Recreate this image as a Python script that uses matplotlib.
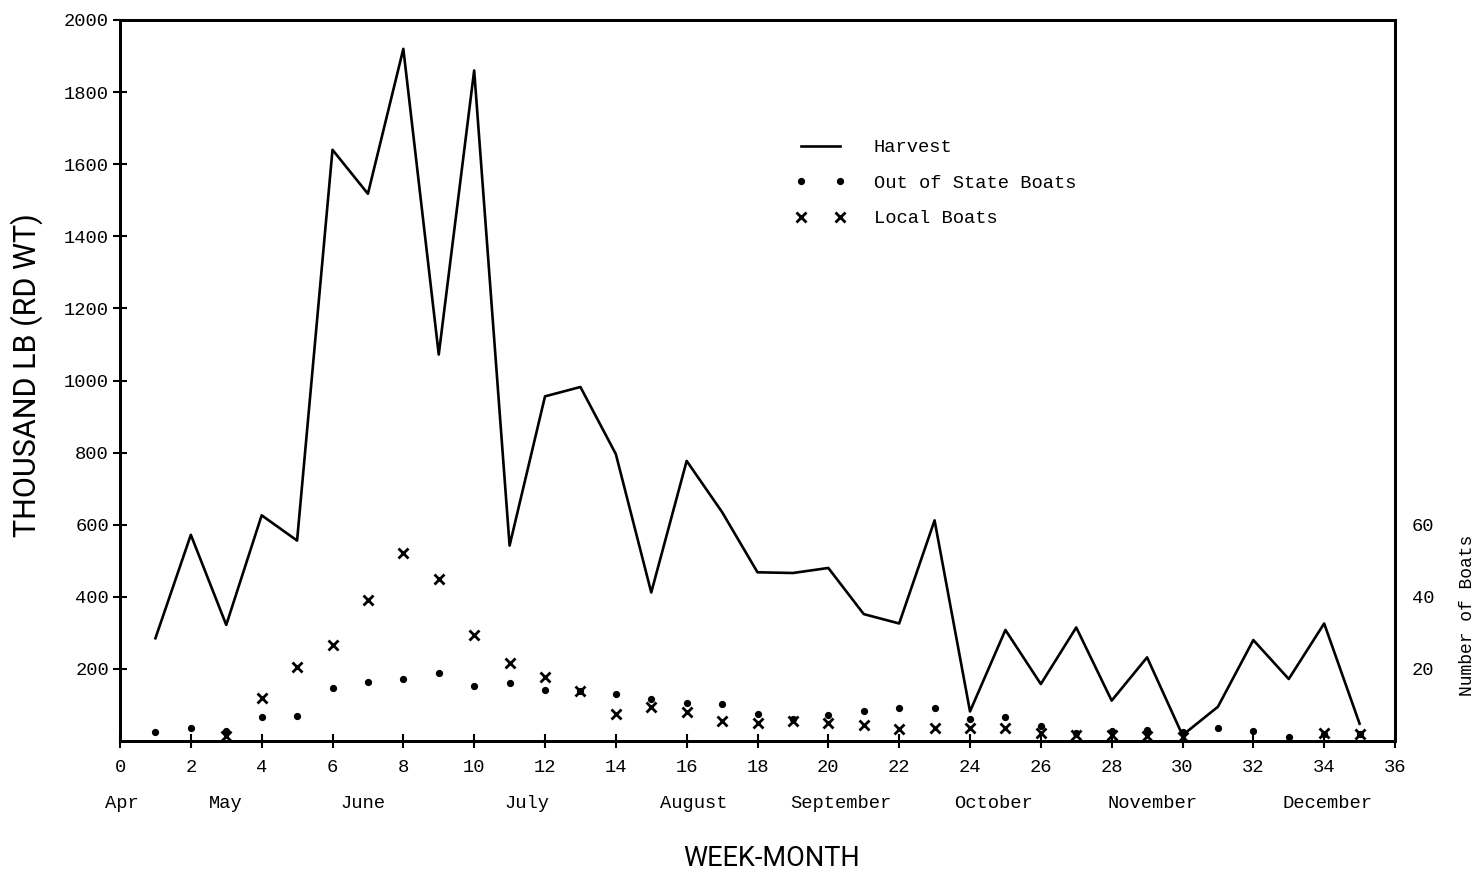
import numpy as np
import matplotlib
matplotlib.use("Agg")
import matplotlib.pyplot as plt
import matplotlib.transforms as mtransforms

# ---- data ----
weeks = list(range(1, 36))
harvest = [285, 572, 322, 626, 556, 1640, 1518, 1920, 1072, 1860,
           542, 956, 982, 796, 412, 777, 635, 468, 466, 480,
           352, 326, 612, 82, 308, 158, 315, 112, 232, 16,
           95, 280, 172, 326, 48]
out_of_state = [2.5, 3.6, 2.8, 6.7, 6.9, 14.7, 16.4, 17.2, 18.9, 15.3,
                16.1, 14.1, 14.0, 13.0, 11.7, 10.5, 10.3, 7.5, 6.2, 7.2,
                8.3, 9.2, 9.2, 6.1, 6.7, 4.2, 2.2, 2.8, 3.0, 2.5,
                3.6, 2.8, 1.1, 2.0, 2.0]
local = [np.nan, np.nan, 1.5, 11.9, 20.5, 26.5, 39.0, 52.2, 45.0, 29.4,
         21.6, 17.8, 13.9, 7.5, 9.5, 8.0, 5.6, 4.9, 5.6, 5.0,
         4.4, 3.3, 3.5, 3.7, 3.6, 2.3, 1.7, 1.7, 1.4, 1.0,
         np.nan, np.nan, np.nan, 2.2, 2.0]
x_ticks = list(range(0, 37, 2))
y_ticks = list(range(200, 2001, 200))
boat_ticks = [20, 40, 60]
months = ["Apr", "May", "June", "July", "August", "September",
          "October", "November", "December"]
month_weeks = [0.05, 3.0, 6.85, 11.5, 16.2, 20.35, 24.65, 29.15, 34.1]

mono = "Liberation Mono"
cond = ["Roboto", "DejaVu Sans"]

fig = plt.figure(figsize=(14.8, 8.74), dpi=100)
ax = fig.add_axes([120/1480, 1-741/874, (1395-120)/1480, (741-20)/874])
ax2 = ax.twinx()

ax.plot(weeks, harvest, color="black", lw=1.9, label="Harvest", zorder=3)
ax2.plot(weeks, out_of_state, ls="none", marker="o", ms=4.2, color="black",
         label="Out of State Boats")
ax2.plot(weeks, local, ls="none", marker="x", ms=6.5, mew=2.0, color="black",
         label="Local Boats")

ax.set_xlim(0, 36)
ax.set_ylim(0, 2000)
ax2.set_ylim(0, 200)

ax.set_xticks(x_ticks)
ax.set_xticklabels([str(t) for t in x_ticks], fontfamily=mono, fontsize=13.5)
ax.set_yticks(y_ticks)
ax.set_yticklabels([str(t) for t in y_ticks], fontfamily=mono, fontsize=13.5)
ax.tick_params(axis="x", direction="inout", length=10, width=1.5, pad=8)
ax.tick_params(axis="y", direction="inout", length=10, width=1.5, pad=3)

ax2.set_yticks(boat_ticks)
ax2.set_yticklabels([str(t) for t in boat_ticks], fontfamily=mono, fontsize=13.5)
ax2.tick_params(axis="y", length=0, pad=12)
ax2.set_ylabel("Number of Boats", fontfamily=mono, fontsize=13,
               va="center", ha="center")
ax2.yaxis.set_label_coords(1.0 + (1467-1395)/1275, (741-615)/721)

for s in ["left", "right", "top", "bottom"]:
    ax.spines[s].set_linewidth(2.0)
    ax2.spines[s].set_linewidth(2.0)

ax.set_ylabel("THOUSAND LB (RD WT)", fontfamily=cond, fontsize=22,
              va="center", ha="center")
ax.yaxis.set_label_coords(-(120-27)/1275, (741-375)/721)

fig.text(772/1480, 1-858/874, "WEEK-MONTH", fontfamily=cond,
         fontsize=19.5, ha="center", va="center")

trans = mtransforms.blended_transform_factory(ax.transData, ax.transAxes)
for name, w in zip(months, month_weeks):
    ax.text(w, -(803-741)/721, name, transform=trans, ha="center", va="center",
            fontfamily=mono, fontsize=13.5)

h1, l1 = ax.get_legend_handles_labels()
h2, l2 = ax2.get_legend_handles_labels()
leg = ax2.legend(h1 + h2, l1 + l2, loc="upper left",
                 bbox_to_anchor=((795-120)/1275, (741-139)/721),
                 frameon=False, numpoints=2, handlelength=2.7,
                 handletextpad=1.5, labelspacing=0.98, borderpad=0,
                 borderaxespad=0, prop={"family": mono, "size": 13.5})

fig.savefig("out.png", dpi=100, facecolor="white")
